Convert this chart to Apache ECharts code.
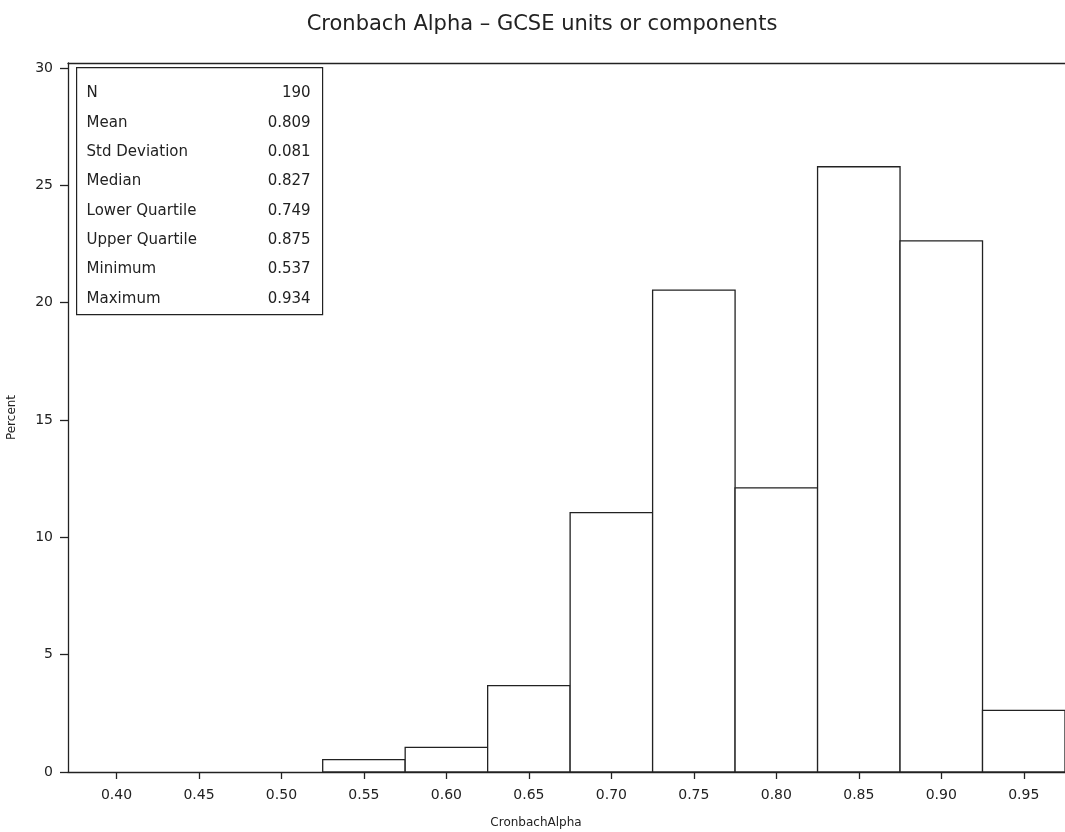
<!DOCTYPE html>
<html>
<head>
<meta charset="utf-8">
<script src="https://cdn.jsdelivr.net/npm/echarts@6/dist/echarts.min.js"></script>
<style>html,body{margin:0;padding:0;background:#fff}#c{width:1065px;height:832px}</style>
</head>
<body>
<div id="c"></div>
<script>
const titleText = 'Cronbach Alpha \u2013 GCSE units or components';
const xName = 'CronbachAlpha';
const yName = 'Percent';
const binCenters = [0.40, 0.45, 0.50, 0.55, 0.60, 0.65, 0.70, 0.75, 0.80, 0.85, 0.90, 0.95];
const percents   = [0, 0, 0, 0.53, 1.05, 3.68, 11.05, 20.53, 12.11, 25.79, 22.63, 2.63];
const binWidth = 0.05;
const xTicks = [0.40, 0.45, 0.50, 0.55, 0.60, 0.65, 0.70, 0.75, 0.80, 0.85, 0.90, 0.95];
const yTicks = [0, 5, 10, 15, 20, 25, 30];
const statNames  = ['N', 'Mean', 'Std Deviation', 'Median', 'Lower Quartile', 'Upper Quartile', 'Minimum', 'Maximum'];
const statValues = ['190', '0.809', '0.081', '0.827', '0.749', '0.875', '0.537', '0.934'];

const FONT = '"DejaVu Sans", sans-serif';
const INK = '#222';

const data = binCenters.map((c, i) => [c - binWidth / 2, c + binWidth / 2, percents[i]]);

const chart = echarts.init(document.getElementById('c'), null, {renderer: 'canvas'});

const statChildren = [{
  type: 'rect', shape: {x: 0, y: 0, width: 246, height: 247},
  style: {fill: '#fff', stroke: INK, lineWidth: 1.2}
}];
statNames.forEach((n, i) => {
  statChildren.push({type: 'text', x: 10, y: 26 + i * 29.3,
    style: {text: n, fill: INK, font: '15px ' + FONT, textVerticalAlign: 'middle', textAlign: 'left'}});
  statChildren.push({type: 'text', x: 234, y: 26 + i * 29.3,
    style: {text: statValues[i], fill: INK, font: '15px ' + FONT, textVerticalAlign: 'middle', textAlign: 'right'}});
});

chart.setOption({
  animation: false,
  backgroundColor: '#fff',
  title: [{
    text: titleText, left: 537, top: 9, textAlign: 'center',
    textStyle: {fontFamily: FONT, fontSize: 21, fontWeight: 'normal', color: INK}
  }, {
    text: xName, left: 531, top: 812, textAlign: 'center',
    textStyle: {fontFamily: FONT, fontSize: 12, fontWeight: 'normal', color: INK}
  }],
  grid: {left: 68, right: 0, top: 63, bottom: 60, containLabel: false, outerBoundsMode: 'none'},
  xAxis: [{
    type: 'value', min: 0.3706, max: 0.975,
    splitLine: {show: false},
    axisLine: {show: true, onZero: false, lineStyle: {color: INK, width: 1.3}},
    axisTick: {show: true, length: 7, customValues: xTicks, lineStyle: {color: INK, width: 1.3}},
    axisLabel: {customValues: xTicks, formatter: v => v.toFixed(2), margin: 16,
      fontFamily: FONT, fontSize: 14, color: INK}
  }, {
    type: 'value', position: 'top', min: 0.3706, max: 0.975,
    splitLine: {show: false},
    axisLine: {show: true, onZero: false, lineStyle: {color: INK, width: 1.3}},
    axisTick: {show: false}, axisLabel: {show: false}
  }],
  yAxis: {
    type: 'value', min: 0, max: 30.21,
    name: yName, nameLocation: 'middle', nameGap: 50, nameRotate: 90,
    nameTextStyle: {fontFamily: FONT, fontSize: 12, color: INK},
    splitLine: {show: false},
    axisLine: {show: true, onZero: false, lineStyle: {color: INK, width: 1.3}},
    axisTick: {show: true, length: 8, customValues: yTicks, lineStyle: {color: INK, width: 1.3}},
    axisLabel: {customValues: yTicks, margin: 15, fontFamily: FONT, fontSize: 14, color: INK}
  },
  series: [{
    type: 'custom',
    data: data,
    renderItem: function (params, api) {
      const lo = api.value(0), hi = api.value(1), v = api.value(2);
      if (!(v > 0)) return null;
      const p0 = api.coord([lo, v]);
      const p1 = api.coord([hi, 0]);
      return {
        type: 'rect',
        shape: {x: p0[0], y: p0[1], width: p1[0] - p0[0], height: p1[1] - p0[1]},
        style: {fill: '#fff', stroke: INK, lineWidth: 1.3}
      };
    },
    encode: {x: [0, 1], y: 2}
  }],
  graphic: [{
    type: 'group', left: 76, top: 67, children: statChildren
  }]
});
</script>
</body>
</html>
